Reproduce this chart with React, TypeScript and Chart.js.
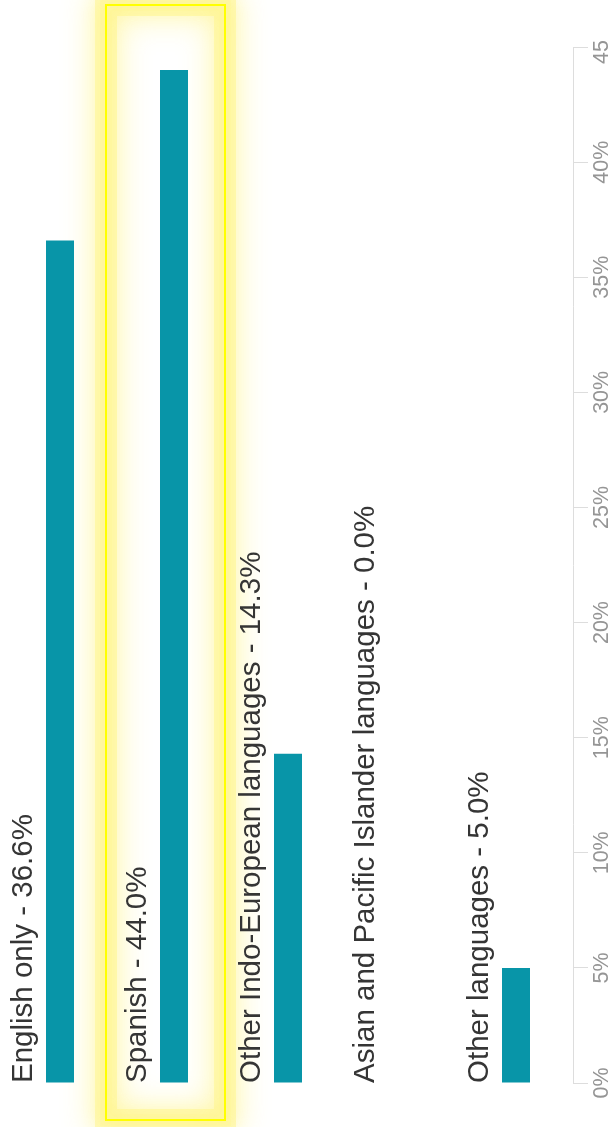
import React, { useEffect, useRef } from "react";
import { Chart, registerables } from "chart.js";

Chart.register(...registerables);

const categories = [
  "English only",
  "Spanish",
  "Other Indo-European languages",
  "Asian and Pacific Islander languages",
  "Other languages",
];
const shares = [36.6, 44.0, 14.3, 0.0, 5.0];
const tickLabels = ["0%", "5%", "10%", "15%", "20%", "25%", "30%", "35%", "40%", "45"];
const highlightedIndex = 1;

const BAR_COLOR = "#0895a8";
const LABEL_FONT = '29.5px "Liberation Sans", Arial, sans-serif';
const TICK_FONT = '21.5px "Liberation Sans", Arial, sans-serif';

const highlightPlugin = {
  id: "highlight",
  beforeDatasetsDraw(chart: any) {
    const meta = chart.getDatasetMeta(0);
    const bar = meta.data[highlightedIndex];
    if (!bar) return;
    const area = chart.chartArea;
    const x0 = bar.x - 68;
    const x1 = bar.x + 51;
    const y0 = area.top - 42;
    const y1 = area.bottom + 37;
    const ctx = chart.ctx;
    ctx.save();
    ctx.shadowColor = "rgba(255, 238, 70, 0.85)";
    ctx.shadowBlur = 32;
    ctx.strokeStyle = "rgba(255, 246, 150, 0.55)";
    ctx.lineWidth = 22;
    ctx.strokeRect(x0, y0, x1 - x0, y1 - y0);
    ctx.shadowBlur = 18;
    ctx.strokeStyle = "rgba(255, 246, 150, 0.35)";
    ctx.lineWidth = 12;
    ctx.strokeRect(x0, y0, x1 - x0, y1 - y0);
    ctx.restore();
    ctx.save();
    ctx.strokeStyle = "#ffff00";
    ctx.lineWidth = 2;
    ctx.strokeRect(x0, y0, x1 - x0, y1 - y0);
    ctx.restore();
  },
};

const labelPlugin = {
  id: "barLabels",
  afterDatasetsDraw(chart: any) {
    const meta = chart.getDatasetMeta(0);
    const ctx = chart.ctx;
    const bottom = chart.chartArea.bottom;
    ctx.save();
    ctx.font = LABEL_FONT;
    ctx.fillStyle = "#353535";
    ctx.textAlign = "left";
    ctx.textBaseline = "alphabetic";
    meta.data.forEach((bar: any, i: number) => {
      const left = bar.x - bar.width / 2;
      const text = `${categories[i]} - ${shares[i].toFixed(1)}%`;
      ctx.save();
      ctx.translate(left - 14, bottom);
      ctx.rotate(-Math.PI / 2);
      ctx.fillText(text, 0, 0);
      ctx.restore();
    });
    ctx.restore();
  },
};

const tickLabelPlugin = {
  id: "tickLabels",
  afterDraw(chart: any) {
    const ys = chart.scales.y;
    const ctx = chart.ctx;
    ctx.save();
    ctx.font = TICK_FONT;
    ctx.fillStyle = "#959595";
    ctx.textAlign = "center";
    ctx.textBaseline = "middle";
    ys.ticks.forEach((_t: any, i: number) => {
      const text = tickLabels[i] ?? "";
      const w = ctx.measureText(text).width;
      let cy = ys.getPixelForTick(i);
      if (cy - w / 2 < 40) cy = 40 + w / 2;
      ctx.save();
      ctx.translate(ys.left + 29, cy);
      ctx.rotate(-Math.PI / 2);
      ctx.fillText(text, 0, 0);
      ctx.restore();
    });
    ctx.restore();
  },
};

export default function App() {
  const ref = useRef<HTMLCanvasElement | null>(null);
  useEffect(() => {
    if (!ref.current) return;
    const chart = new Chart(ref.current, {
      type: "bar",
      data: {
        labels: categories,
        datasets: [
          {
            data: shares,
            backgroundColor: BAR_COLOR,
            borderWidth: 0,
            categoryPercentage: 1,
            barPercentage: 28 / 114,
          },
        ],
      },
      options: {
        responsive: false,
        animation: false,
        devicePixelRatio: 1,
        layout: { padding: { left: 3, top: 47, bottom: 44, right: 0 } },
        plugins: { legend: { display: false }, tooltip: { enabled: false } },
        scales: {
          x: { display: false },
          y: {
            position: "right",
            min: 0,
            max: 45,
            ticks: { stepSize: 5, display: false },
            grid: {
              drawOnChartArea: false,
              drawTicks: true,
              tickLength: 15,
              color: "#dddddd",
            },
            border: { display: true, color: "#dddddd", width: 1 },
            afterFit: (s: any) => {
              s.width = 41;
            },
          },
        },
      },
      plugins: [highlightPlugin, labelPlugin, tickLabelPlugin],
    });
    return () => chart.destroy();
  }, []);
  return (
    <div style={{ position: "absolute", left: 0, top: 0, width: 614, height: 1127, background: "#fff" }}>
      <canvas ref={ref} width={614} height={1127} style={{ display: "block" }} />
    </div>
  );
}
